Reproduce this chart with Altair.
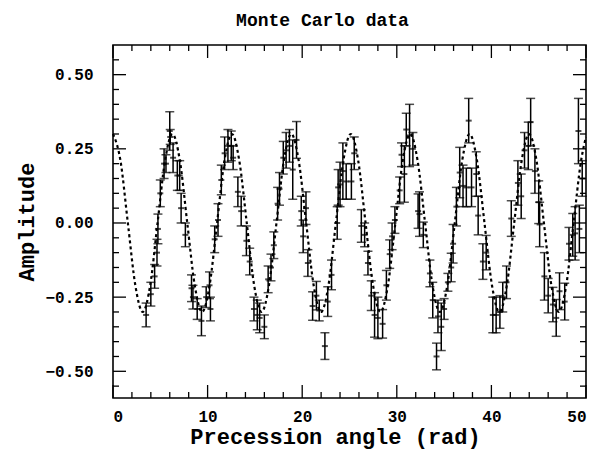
import altair as alt
import pandas as pd

# ---- data ----
px = [3.5, 4.0, 4.4, 4.65, 4.75, 5.0, 5.4, 5.6, 6.0, 6.05, 6.35, 6.8,
      7.05, 7.2, 7.65, 8.3, 8.45, 8.9, 9.35, 9.85, 10.2, 10.3, 10.75, 11.1, 11.45, 11.8,
      12.15, 12.5, 12.7, 13.2, 13.55, 14.1, 14.45, 14.9, 15.25,
      15.5, 16.0, 16.4, 16.7, 17.0, 17.4, 17.6, 18.0, 18.3, 18.65, 19.0, 19.4, 19.9,
      20.1, 20.4, 20.6, 21.1, 21.5, 21.8, 22.4, 22.7, 23.1, 23.7, 23.8,
      24.0, 24.3, 24.65, 25.2, 25.5, 26.25, 26.6, 26.95, 27.3, 27.65, 28.0, 28.5,
      28.9, 29.25, 29.5, 29.8, 30.3, 30.5, 30.8, 31.0, 31.35, 31.7, 32.25,
      32.4, 32.8, 33.5, 33.8, 34.2, 34.35, 34.7, 35.0, 35.4, 35.75, 35.95, 36.3,
      36.65, 37.0, 37.35, 37.6, 37.9, 38.4, 38.6, 39.1, 39.45, 40.15, 40.5,
      40.9, 41.2, 41.6, 42.1, 42.8, 43.15, 43.5, 43.9, 44.15, 44.6, 45.0, 45.1,
      45.6, 46.0, 46.5, 46.85, 47.2, 47.75, 48.2, 48.6, 48.85, 49.3, 49.2, 49.6]
py = [-0.31, -0.24, -0.18, -0.10, -0.02, 0.10, 0.20, 0.20, 0.31, 0.29, 0.22, 0.16,
      0.16, 0.05, -0.04, -0.22, -0.25, -0.29, -0.33, -0.25, -0.21, -0.29, -0.055, 0.01, 0.145, 0.235,
      0.26, 0.26, 0.22, 0.105, 0.04, -0.06, -0.13, -0.29, -0.31,
      -0.32, -0.35, -0.19, -0.15, -0.075, 0.065, 0.115, 0.22, 0.245, 0.26, 0.18, 0.28, 0.04,
      -0.045, 0.05, -0.135, -0.28, -0.245, -0.295, -0.415, -0.265, -0.175, 0.0, 0.12,
      0.13, 0.175, 0.14, 0.14, 0.235, -0.01, -0.04, -0.135, -0.245, -0.31, -0.32, -0.34,
      -0.21, -0.105, -0.045, 0.01, 0.11, 0.23, 0.165, 0.315, 0.295, 0.25, 0.04,
      0.03, -0.04, -0.17, -0.26, -0.45, -0.315, -0.35, -0.29, -0.2, -0.15, -0.07, 0.055,
      0.17, 0.125, 0.12, 0.345, 0.12, 0.165, 0.025, -0.13, -0.1, -0.31, -0.31,
      -0.3, -0.25, -0.2, 0.015, 0.135, 0.09, 0.245, 0.26, 0.34, 0.175, 0.07, -0.005,
      -0.18, -0.245, -0.275, -0.32, -0.23, -0.265, -0.07, -0.04, -0.035, -0.02, 0.31, 0.15]
perr = [0.04, 0.04, 0.04, 0.045, 0.05, 0.045, 0.05, 0.03, 0.065, 0.025, 0.05, 0.05,
        0.05, 0.05, 0.04, 0.045, 0.04, 0.035, 0.05, 0.035, 0.045, 0.04, 0.045, 0.055, 0.05, 0.055,
        0.055, 0.05, 0.04, 0.05, 0.05, 0.05, 0.045, 0.04, 0.05,
        0.05, 0.04, 0.045, 0.045, 0.045, 0.055, 0.055, 0.055, 0.06, 0.055, 0.1, 0.062, 0.05,
        0.055, 0.055, 0.045, 0.048, 0.048, 0.035, 0.045, 0.05, 0.05, 0.055, 0.06,
        0.075, 0.095, 0.06, 0.06, 0.055, 0.055, 0.04, 0.04, 0.05, 0.075, 0.07, 0.048,
        0.05, 0.048, 0.045, 0.045, 0.045, 0.04, 0.095, 0.055, 0.105, 0.055, 0.058,
        0.075, 0.043, 0.045, 0.06, 0.045, 0.055, 0.08, 0.035, 0.03, 0.048, 0.065, 0.065,
        0.085, 0.07, 0.065, 0.075, 0.065, 0.075, 0.065, 0.06, 0.058, 0.06, 0.06,
        0.055, 0.05, 0.055, 0.06, 0.075, 0.075, 0.06, 0.08, 0.08, 0.075, 0.072, 0.075,
        0.08, 0.058, 0.058, 0.062, 0.062, 0.062, 0.055, 0.072, 0.09, 0.08, 0.11, 0.06]

# dashed model curve (key points at every eighth of a period)
cx = [0.00, 0.79, 1.57, 2.36, 3.14, 3.93, 4.71, 5.50, 6.28, 7.07, 7.85, 8.64,
      9.42, 10.21, 11.00, 11.78, 12.57, 13.35, 14.14, 14.92, 15.71, 16.49, 17.28,
      18.06, 18.85, 19.63, 20.42, 21.21, 21.99, 22.78, 23.56, 24.35, 25.13, 25.92,
      26.70, 27.49, 28.27, 29.06, 29.85, 30.63, 31.42, 32.20, 32.99, 33.77, 34.56,
      35.34, 36.13, 36.91, 37.70, 38.48, 39.27, 40.06, 40.84, 41.63, 42.41, 43.20,
      43.98, 44.77, 45.55, 46.34, 47.12, 47.91, 48.69, 49.48, 50.00]
cy = [0.30, 0.21, 0.00, -0.21, -0.30, -0.21, 0.00, 0.21] * 8 + [0.29]

x_major = [0, 10, 20, 30, 40, 50]
x_minor = [2, 4, 6, 8, 12, 14, 16, 18, 22, 24, 26, 28, 32, 34, 36, 38, 42, 44, 46, 48]
y_major = [-0.5, -0.25, 0.0, 0.25, 0.5]
y_minor = [-0.55, -0.45, -0.4, -0.35, -0.3, -0.2, -0.15, -0.1, -0.05,
           0.05, 0.1, 0.15, 0.2, 0.3, 0.35, 0.4, 0.45, 0.55]

W, H = 473, 353
XD = [0, 50]
YD = [-0.59, 0.60]
FONT = "Liberation Mono"

pts = pd.DataFrame({"x": px, "y": py, "e": perr})
pts["lo"] = pts["y"] - pts["e"]
pts["hi"] = pts["y"] + pts["e"]
curve = pd.DataFrame({"x": cx, "y": cy})

xs = alt.Scale(domain=XD, nice=False, zero=False)
ys = alt.Scale(domain=YD, nice=False, zero=False)

X = alt.X("x:Q", scale=xs,
          axis=alt.Axis(values=x_major, title="Precession angle (rad)", ticks=False,
                        domain=False, grid=False, labelPadding=10, titlePadding=2,
                        titleX=222, titleAlign="center", format="d"))
Y = alt.Y("y:Q", scale=ys,
          axis=alt.Axis(values=y_major, title="Amplitude", ticks=False, domain=False,
                        grid=False, labelPadding=20, titlePadding=6, format=".2f"))

base = alt.Chart(pts)

line = alt.Chart(curve).mark_line(color="black", strokeWidth=2.2, strokeDash=[3, 3],
                                  interpolate="monotone").encode(x=X, y=Y)

bars = base.mark_rule(color="black", strokeWidth=1.5).encode(
    x=alt.X("x:Q", scale=xs), y=alt.Y("lo:Q", scale=ys), y2="hi:Q")
caps_lo = base.mark_tick(color="black", orient="horizontal", size=9, thickness=1.5).encode(
    x=alt.X("x:Q", scale=xs), y=alt.Y("lo:Q", scale=ys))
caps_hi = base.mark_tick(color="black", orient="horizontal", size=9, thickness=1.5).encode(
    x=alt.X("x:Q", scale=xs), y=alt.Y("hi:Q", scale=ys))
mids = base.mark_tick(color="black", orient="horizontal", size=6, thickness=2).encode(
    x=alt.X("x:Q", scale=xs), y=alt.Y("y:Q", scale=ys))


def xticks(vals, length):
    d = pd.DataFrame({"t": vals})
    b = alt.Chart(d).mark_rule(color="black", strokeWidth=1.3)
    return [
        b.encode(x=alt.X("t:Q", scale=xs), y=alt.value(H), y2=alt.value(H - length)),
        b.encode(x=alt.X("t:Q", scale=xs), y=alt.value(0), y2=alt.value(length)),
    ]


def yticks(vals, length):
    d = pd.DataFrame({"t": vals})
    b = alt.Chart(d).mark_rule(color="black", strokeWidth=1.3)
    return [
        b.encode(y=alt.Y("t:Q", scale=ys), x=alt.value(0), x2=alt.value(length)),
        b.encode(y=alt.Y("t:Q", scale=ys), x=alt.value(W), x2=alt.value(W - length)),
    ]


tick_layers = xticks(x_major, 13) + xticks(x_minor, 6) + yticks(y_major, 13) + yticks(y_minor, 6)

chart = alt.layer(line, bars, caps_lo, caps_hi, mids, *tick_layers).properties(
    width=W, height=H,
    title=alt.TitleParams("Monte Carlo data", font=FONT, fontSize=18, fontWeight="bold",
                          color="black", offset=14, dx=-27),
    autosize=alt.AutoSizeParams(type="none"),
    padding={"left": 113, "top": 45, "right": 15, "bottom": 53},
).configure_view(
    stroke="black", strokeWidth=1.6
).configure_axis(
    labelFont=FONT, labelFontSize=16, labelFontWeight="bold", labelColor="black",
    titleFont=FONT, titleFontSize=22, titleFontWeight="bold", titleColor="black",
)

chart.save("out.html", embed_options={"renderer": "svg", "actions": False})
